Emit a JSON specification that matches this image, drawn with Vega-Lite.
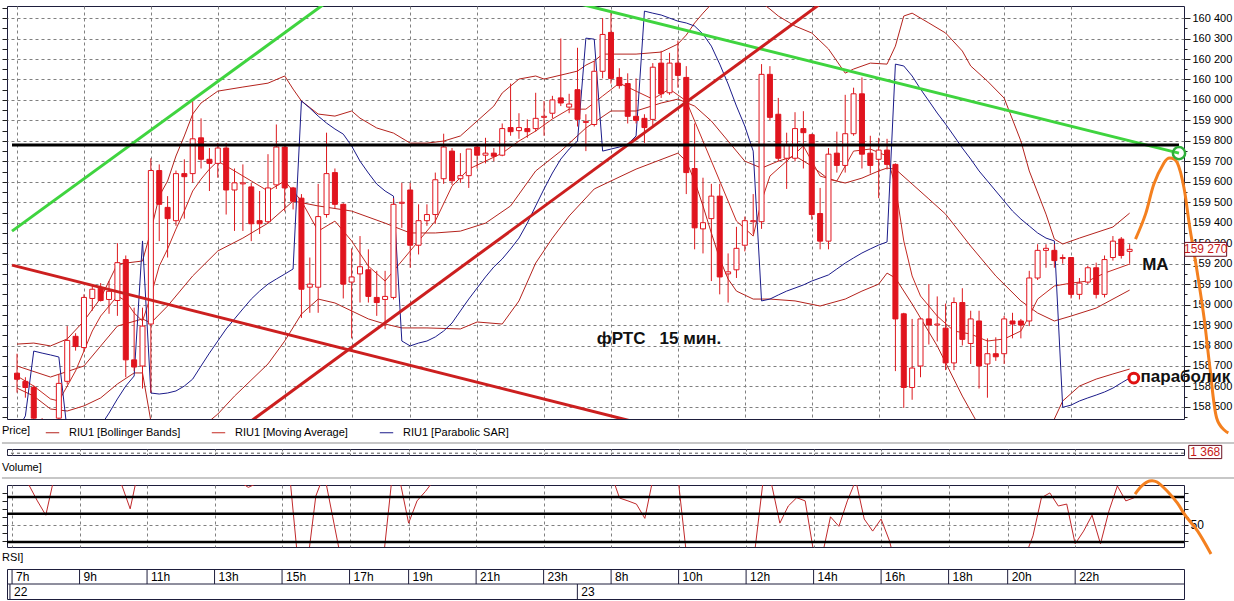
{
"$schema":"https://vega.github.io/schema/vega-lite/v6.json",
"background":"white",
"padding":{"left":0,"top":5,"right":0,"bottom":0},
"autosize":{"type":"pad"},
"bounds":"flush",
"spacing":30,
"config":{"font":"Liberation Sans","view":{"stroke":"#1e1e3c","strokeWidth":1}},
"datasets":{
"c":[{"i":0,"o":158665,"h":158760,"l":158570,"c":158635},{"i":1,"o":158625,"h":158645,"l":158545,"c":158595},{"i":2,"o":158595,"h":158605,"l":158405,"c":158445},{"i":3,"o":158430,"h":158445,"l":158350,"c":158380},{"i":4,"o":158380,"h":158435,"l":158340,"c":158420},{"i":5,"o":158445,"h":158660,"l":158420,"c":158615},{"i":6,"o":158625,"h":158895,"l":158610,"c":158825},{"i":7,"o":158845,"h":158860,"l":158775,"c":158795},{"i":8,"o":158790,"h":159050,"l":158770,"c":159035},{"i":9,"o":159030,"h":159100,"l":158970,"c":159075},{"i":10,"o":159080,"h":159105,"l":159015,"c":159020},{"i":11,"o":159025,"h":159115,"l":158955,"c":159065},{"i":12,"o":159020,"h":159300,"l":158945,"c":159205},{"i":13,"o":159220,"h":159240,"l":158645,"c":158730},{"i":14,"o":158730,"h":158985,"l":158675,"c":158695},{"i":15,"o":158700,"h":158985,"l":158590,"c":158895},{"i":16,"o":158905,"h":159715,"l":158570,"c":159655},{"i":17,"o":159655,"h":159685,"l":159310,"c":159490},{"i":18,"o":159475,"h":159530,"l":159230,"c":159420},{"i":19,"o":159410,"h":159655,"l":159385,"c":159640},{"i":20,"o":159640,"h":159710,"l":159420,"c":159625},{"i":21,"o":159640,"h":159995,"l":159595,"c":159810},{"i":22,"o":159815,"h":159910,"l":159665,"c":159710},{"i":23,"o":159710,"h":159765,"l":159555,"c":159690},{"i":24,"o":159690,"h":159790,"l":159620,"c":159765},{"i":25,"o":159765,"h":159790,"l":159440,"c":159560},{"i":26,"o":159560,"h":159665,"l":159360,"c":159595},{"i":27,"o":159590,"h":159685,"l":159360,"c":159595},{"i":28,"o":159575,"h":159595,"l":159310,"c":159395},{"i":29,"o":159410,"h":159555,"l":159345,"c":159395},{"i":30,"o":159405,"h":159735,"l":159395,"c":159570},{"i":31,"o":159585,"h":159880,"l":159565,"c":159770},{"i":32,"o":159770,"h":159785,"l":159455,"c":159570},{"i":33,"o":159570,"h":159575,"l":159465,"c":159505},{"i":34,"o":159520,"h":159540,"l":158935,"c":159075},{"i":35,"o":159085,"h":159230,"l":158960,"c":159100},{"i":36,"o":159085,"h":159590,"l":158960,"c":159430},{"i":37,"o":159440,"h":159840,"l":159425,"c":159640},{"i":38,"o":159645,"h":159665,"l":159470,"c":159490},{"i":39,"o":159490,"h":159495,"l":159030,"c":159100},{"i":40,"o":159110,"h":159275,"l":158835,"c":159135},{"i":41,"o":159150,"h":159335,"l":159010,"c":159185},{"i":42,"o":159170,"h":159270,"l":159010,"c":159040},{"i":43,"o":159035,"h":159165,"l":158945,"c":159010},{"i":44,"o":159025,"h":159165,"l":158880,"c":159040},{"i":45,"o":159035,"h":159520,"l":159025,"c":159490},{"i":46,"o":159495,"h":159595,"l":159375,"c":159500},{"i":47,"o":159560,"h":159595,"l":159180,"c":159290},{"i":48,"o":159290,"h":159490,"l":159245,"c":159410},{"i":49,"o":159410,"h":159490,"l":159385,"c":159440},{"i":50,"o":159440,"h":159645,"l":159395,"c":159610},{"i":51,"o":159615,"h":159835,"l":159590,"c":159770},{"i":52,"o":159750,"h":159765,"l":159585,"c":159605},{"i":53,"o":159615,"h":159740,"l":159595,"c":159630},{"i":54,"o":159630,"h":159760,"l":159570,"c":159760},{"i":55,"o":159770,"h":159775,"l":159665,"c":159730},{"i":56,"o":159730,"h":159815,"l":159690,"c":159740},{"i":57,"o":159740,"h":159765,"l":159700,"c":159725},{"i":58,"o":159730,"h":159885,"l":159725,"c":159860},{"i":59,"o":159865,"h":160080,"l":159825,"c":159845},{"i":60,"o":159850,"h":159935,"l":159810,"c":159865},{"i":61,"o":159860,"h":159905,"l":159815,"c":159845},{"i":62,"o":159860,"h":160035,"l":159845,"c":159910},{"i":63,"o":159915,"h":159995,"l":159825,"c":159920},{"i":64,"o":159935,"h":160020,"l":159910,"c":160000},{"i":65,"o":160010,"h":160300,"l":159970,"c":159985},{"i":66,"o":159965,"h":160030,"l":159935,"c":159980},{"i":67,"o":160050,"h":160255,"l":159870,"c":159905},{"i":68,"o":159890,"h":159930,"l":159750,"c":159895},{"i":69,"o":159880,"h":160190,"l":159870,"c":160140},{"i":70,"o":160140,"h":160400,"l":160105,"c":160320},{"i":71,"o":160330,"h":160425,"l":160080,"c":160105},{"i":72,"o":160110,"h":160155,"l":160055,"c":160070},{"i":73,"o":160080,"h":160130,"l":159885,"c":159920},{"i":74,"o":159920,"h":160105,"l":159885,"c":159900},{"i":75,"o":159910,"h":159930,"l":159790,"c":159865},{"i":76,"o":159905,"h":160180,"l":159865,"c":160160},{"i":77,"o":160180,"h":160240,"l":160010,"c":160030},{"i":78,"o":160035,"h":160230,"l":160025,"c":160180},{"i":79,"o":160180,"h":160290,"l":160060,"c":160120},{"i":80,"o":160110,"h":160165,"l":159540,"c":159645},{"i":81,"o":159665,"h":159885,"l":159270,"c":159375},{"i":82,"o":159370,"h":159620,"l":159250,"c":159400},{"i":83,"o":159420,"h":159590,"l":159115,"c":159530},{"i":84,"o":159530,"h":159590,"l":159050,"c":159135},{"i":85,"o":159150,"h":159250,"l":159010,"c":159160},{"i":86,"o":159170,"h":159380,"l":159130,"c":159275},{"i":87,"o":159290,"h":159430,"l":159260,"c":159410},{"i":88,"o":159405,"h":159540,"l":159345,"c":159410},{"i":89,"o":159405,"h":160175,"l":159370,"c":160125},{"i":90,"o":160125,"h":160165,"l":159900,"c":159915},{"i":91,"o":159930,"h":160010,"l":159700,"c":159715},{"i":92,"o":159715,"h":159840,"l":159565,"c":159780},{"i":93,"o":159715,"h":159940,"l":159700,"c":159860},{"i":94,"o":159860,"h":159945,"l":159665,"c":159840},{"i":95,"o":159830,"h":159835,"l":159415,"c":159440},{"i":96,"o":159445,"h":159570,"l":159270,"c":159310},{"i":97,"o":159310,"h":159765,"l":159270,"c":159735},{"i":98,"o":159740,"h":159845,"l":159645,"c":159680},{"i":99,"o":159680,"h":160025,"l":159645,"c":159835},{"i":100,"o":159835,"h":160060,"l":159825,"c":160030},{"i":101,"o":160030,"h":160110,"l":159665,"c":159735},{"i":102,"o":159740,"h":159825,"l":159640,"c":159680},{"i":103,"o":159710,"h":159815,"l":159520,"c":159755},{"i":104,"o":159755,"h":159810,"l":159660,"c":159685},{"i":105,"o":159685,"h":159690,"l":158675,"c":158930},{"i":106,"o":158955,"h":158960,"l":158495,"c":158595},{"i":107,"o":158595,"h":158930,"l":158535,"c":158690},{"i":108,"o":158700,"h":158935,"l":158645,"c":158930},{"i":109,"o":158930,"h":159100,"l":158805,"c":158900},{"i":110,"o":158900,"h":159040,"l":158820,"c":158905},{"i":111,"o":158885,"h":159005,"l":158680,"c":158715},{"i":112,"o":158715,"h":159035,"l":158680,"c":159010},{"i":113,"o":159010,"h":159080,"l":158800,"c":158830},{"i":114,"o":158810,"h":158970,"l":158710,"c":158930},{"i":115,"o":158920,"h":158970,"l":158590,"c":158700},{"i":116,"o":158710,"h":158835,"l":158545,"c":158760},{"i":117,"o":158760,"h":158840,"l":158725,"c":158745},{"i":118,"o":158760,"h":158945,"l":158710,"c":158930},{"i":119,"o":158920,"h":158960,"l":158835,"c":158905},{"i":120,"o":158920,"h":158930,"l":158835,"c":158900},{"i":121,"o":158920,"h":159165,"l":158895,"c":159130},{"i":122,"o":159130,"h":159295,"l":159120,"c":159265},{"i":123,"o":159265,"h":159295,"l":159180,"c":159275},{"i":124,"o":159265,"h":159295,"l":159180,"c":159215},{"i":125,"o":159225,"h":159245,"l":159200,"c":159230},{"i":126,"o":159230,"h":159230,"l":159030,"c":159050},{"i":127,"o":159050,"h":159130,"l":159025,"c":159105},{"i":128,"o":159110,"h":159190,"l":159100,"c":159180},{"i":129,"o":159180,"h":159205,"l":159030,"c":159050},{"i":130,"o":159050,"h":159240,"l":159035,"c":159220},{"i":131,"o":159230,"h":159335,"l":159215,"c":159310},{"i":132,"o":159320,"h":159330,"l":159225,"c":159240},{"i":133,"o":159260,"h":159295,"l":159200,"c":159270}],
"U":[{"i":0,"v":158807},{"i":2,"v":158812},{"i":4,"v":158798},{"i":6,"v":158832},{"i":8,"v":158920},{"i":10,"v":159032},{"i":12,"v":159198},{"i":15,"v":159213},{"i":16,"v":159359},{"i":17,"v":159530},{"i":18,"v":159604},{"i":19,"v":159726},{"i":20,"v":159824},{"i":21,"v":159931},{"i":22,"v":159985},{"i":23,"v":160014},{"i":24,"v":160043},{"i":27,"v":160063},{"i":30,"v":160082},{"i":32,"v":160117},{"i":33,"v":160053},{"i":34,"v":159995},{"i":36,"v":159931},{"i":38,"v":159921},{"i":40,"v":159946},{"i":41,"v":159911},{"i":43,"v":159863},{"i":45,"v":159838},{"i":47,"v":159789},{"i":49,"v":159789},{"i":51,"v":159799},{"i":53,"v":159824},{"i":55,"v":159897},{"i":57,"v":159970},{"i":58,"v":160034},{"i":60,"v":160102},{"i":62,"v":160117},{"i":63,"v":160102},{"i":66,"v":160131},{"i":67,"v":160141},{"i":68,"v":160170},{"i":69,"v":160190},{"i":70,"v":160224},{"i":74,"v":160224},{"i":77,"v":160234},{"i":79,"v":160273},{"i":80,"v":160317},{"i":81,"v":160376},{"i":82,"v":160424},{"i":83,"v":160468},{"i":85,"v":160522},{"i":88,"v":160507},{"i":90,"v":160444},{"i":91,"v":160410},{"i":93,"v":160361},{"i":95,"v":160327},{"i":97,"v":160249},{"i":99,"v":160131},{"i":100,"v":160151},{"i":102,"v":160180},{"i":104,"v":160175},{"i":105,"v":160263},{"i":106,"v":160410},{"i":107,"v":160424},{"i":109,"v":160376},{"i":111,"v":160327},{"i":113,"v":160239},{"i":114,"v":160166},{"i":116,"v":160092},{"i":118,"v":160009},{"i":120,"v":159799},{"i":121,"v":159653},{"i":123,"v":159442},{"i":124,"v":159320},{"i":125,"v":159296},{"i":127,"v":159325},{"i":131,"v":159379},{"i":133,"v":159447}],
"L":[{"i":0,"v":158592},{"i":2,"v":158553},{"i":4,"v":158490},{"i":6,"v":158480},{"i":8,"v":158505},{"i":10,"v":158544},{"i":12,"v":158612},{"i":14,"v":158666},{"i":15,"v":158666},{"i":16,"v":158431},{"i":18,"v":158334},{"i":21,"v":158358},{"i":23,"v":158431},{"i":24,"v":158465},{"i":26,"v":158553},{"i":27,"v":158592},{"i":30,"v":158710},{"i":32,"v":158822},{"i":34,"v":158954},{"i":36,"v":159027},{"i":38,"v":159008},{"i":40,"v":158969},{"i":42,"v":158930},{"i":44,"v":158905},{"i":46,"v":158886},{"i":49,"v":158886},{"i":53,"v":158881},{"i":55,"v":158915},{"i":58,"v":158905},{"i":60,"v":159018},{"i":62,"v":159203},{"i":64,"v":159325},{"i":66,"v":159433},{"i":69,"v":159565},{"i":71,"v":159604},{"i":74,"v":159662},{"i":79,"v":159740},{"i":80,"v":159701},{"i":81,"v":159604},{"i":82,"v":159482},{"i":83,"v":159350},{"i":84,"v":159223},{"i":85,"v":159125},{"i":86,"v":159066},{"i":88,"v":159027},{"i":90,"v":159027},{"i":93,"v":159018},{"i":96,"v":158993},{"i":99,"v":159027},{"i":101,"v":159066},{"i":103,"v":159100},{"i":104,"v":159154},{"i":105,"v":159130},{"i":107,"v":159003},{"i":110,"v":158798},{"i":113,"v":158553},{"i":115,"v":158407},{"i":118,"v":158334},{"i":121,"v":158334},{"i":124,"v":158441},{"i":125,"v":158529},{"i":127,"v":158602},{"i":129,"v":158636},{"i":131,"v":158661},{"i":133,"v":158685}],
"M":[{"i":0,"v":158700},{"i":4,"v":158646},{"i":8,"v":158700},{"i":12,"v":158895},{"i":15,"v":158930},{"i":16,"v":158910},{"i":18,"v":158993},{"i":21,"v":159140},{"i":24,"v":159262},{"i":27,"v":159325},{"i":30,"v":159398},{"i":33,"v":159506},{"i":36,"v":159482},{"i":40,"v":159457},{"i":44,"v":159398},{"i":47,"v":159350},{"i":50,"v":159350},{"i":53,"v":159359},{"i":56,"v":159398},{"i":59,"v":159482},{"i":62,"v":159653},{"i":65,"v":159750},{"i":68,"v":159863},{"i":71,"v":159946},{"i":74,"v":159946},{"i":77,"v":159985},{"i":79,"v":160004},{"i":81,"v":159970},{"i":83,"v":159897},{"i":85,"v":159799},{"i":87,"v":159701},{"i":89,"v":159667},{"i":91,"v":159701},{"i":93,"v":159726},{"i":95,"v":159677},{"i":97,"v":159613},{"i":99,"v":159594},{"i":101,"v":159618},{"i":103,"v":159653},{"i":104,"v":159667},{"i":105,"v":159662},{"i":107,"v":159589},{"i":109,"v":159516},{"i":111,"v":159442},{"i":114,"v":159286},{"i":117,"v":159140},{"i":120,"v":159018},{"i":122,"v":158959},{"i":124,"v":158920},{"i":126,"v":158944},{"i":129,"v":158983},{"i":133,"v":159071}],
"MA":[{"i":0,"v":158651},{"i":2,"v":158602},{"i":4,"v":158539},{"i":5,"v":158529},{"i":6,"v":158602},{"i":7,"v":158676},{"i":8,"v":158773},{"i":9,"v":158871},{"i":10,"v":158944},{"i":11,"v":158993},{"i":12,"v":159042},{"i":13,"v":159018},{"i":14,"v":158959},{"i":15,"v":158920},{"i":16,"v":159042},{"i":17,"v":159188},{"i":18,"v":159272},{"i":19,"v":159369},{"i":20,"v":159457},{"i":21,"v":159555},{"i":22,"v":159613},{"i":23,"v":159662},{"i":24,"v":159701},{"i":26,"v":159653},{"i":28,"v":159604},{"i":30,"v":159555},{"i":32,"v":159604},{"i":34,"v":159506},{"i":36,"v":159359},{"i":38,"v":159408},{"i":40,"v":159311},{"i":42,"v":159188},{"i":44,"v":159115},{"i":46,"v":159213},{"i":48,"v":159311},{"i":50,"v":159408},{"i":52,"v":159579},{"i":54,"v":159662},{"i":56,"v":159701},{"i":58,"v":159740},{"i":60,"v":159799},{"i":62,"v":159848},{"i":64,"v":159907},{"i":66,"v":159955},{"i":68,"v":159955},{"i":70,"v":160019},{"i":72,"v":160082},{"i":74,"v":160043},{"i":76,"v":160004},{"i":78,"v":160053},{"i":80,"v":159995},{"i":82,"v":159799},{"i":84,"v":159604},{"i":86,"v":159408},{"i":88,"v":159335},{"i":89,"v":159506},{"i":90,"v":159628},{"i":92,"v":159701},{"i":94,"v":159775},{"i":96,"v":159628},{"i":98,"v":159604},{"i":100,"v":159750},{"i":102,"v":159760},{"i":104,"v":159726},{"i":105,"v":159579},{"i":106,"v":159311},{"i":107,"v":159140},{"i":108,"v":159042},{"i":110,"v":158944},{"i":112,"v":158871},{"i":114,"v":158856},{"i":116,"v":158822},{"i":118,"v":158832},{"i":120,"v":158871},{"i":121,"v":158944},{"i":122,"v":159027},{"i":124,"v":159091},{"i":126,"v":159105},{"i":128,"v":159115},{"i":130,"v":159154},{"i":133,"v":159198}],
"S":[{"i":0,"v":158382},{"i":1,"v":158456},{"i":2,"v":158773},{"i":3,"v":158763},{"i":4,"v":158754},{"i":5,"v":158744},{"i":6,"v":158382},{"i":7,"v":158334},{"i":8,"v":158358},{"i":9,"v":158382},{"i":10,"v":158407},{"i":11,"v":158470},{"i":12,"v":158539},{"i":13,"v":158602},{"i":14,"v":158651},{"i":15,"v":159311},{"i":16,"v":158568},{"i":17,"v":158563},{"i":18,"v":158568},{"i":19,"v":158578},{"i":20,"v":158602},{"i":21,"v":158636},{"i":22,"v":158700},{"i":23,"v":158763},{"i":24,"v":158822},{"i":25,"v":158881},{"i":26,"v":158930},{"i":27,"v":158979},{"i":28,"v":159027},{"i":29,"v":159066},{"i":30,"v":159100},{"i":31,"v":159125},{"i":32,"v":159149},{"i":33,"v":159174},{"i":34,"v":159995},{"i":35,"v":159960},{"i":36,"v":159921},{"i":37,"v":159887},{"i":38,"v":159858},{"i":39,"v":159833},{"i":40,"v":159775},{"i":41,"v":159701},{"i":42,"v":159643},{"i":43,"v":159589},{"i":44,"v":159555},{"i":45,"v":159530},{"i":46,"v":158822},{"i":47,"v":158798},{"i":48,"v":158812},{"i":49,"v":158822},{"i":50,"v":158842},{"i":51,"v":158871},{"i":52,"v":158910},{"i":53,"v":158969},{"i":54,"v":159027},{"i":55,"v":159081},{"i":56,"v":159135},{"i":57,"v":159184},{"i":58,"v":159223},{"i":59,"v":159272},{"i":60,"v":159325},{"i":61,"v":159398},{"i":62,"v":159482},{"i":63,"v":159565},{"i":64,"v":159643},{"i":65,"v":159711},{"i":66,"v":159760},{"i":67,"v":159799},{"i":68,"v":160302},{"i":69,"v":160297},{"i":70,"v":159750},{"i":71,"v":159760},{"i":72,"v":159770},{"i":73,"v":159784},{"i":74,"v":159824},{"i":75,"v":160434},{"i":76,"v":160424},{"i":77,"v":160415},{"i":78,"v":160400},{"i":79,"v":160385},{"i":80,"v":160376},{"i":81,"v":160361},{"i":82,"v":160322},{"i":83,"v":160263},{"i":84,"v":160175},{"i":85,"v":160078},{"i":86,"v":159970},{"i":87,"v":159872},{"i":88,"v":159750},{"i":89,"v":159018},{"i":90,"v":159027},{"i":91,"v":159047},{"i":92,"v":159066},{"i":93,"v":159081},{"i":94,"v":159096},{"i":95,"v":159115},{"i":96,"v":159130},{"i":97,"v":159145},{"i":98,"v":159174},{"i":99,"v":159203},{"i":100,"v":159228},{"i":101,"v":159252},{"i":102,"v":159272},{"i":103,"v":159291},{"i":104,"v":159306},{"i":105,"v":160175},{"i":106,"v":160166},{"i":107,"v":160117},{"i":108,"v":160053},{"i":109,"v":159995},{"i":110,"v":159936},{"i":111,"v":159882},{"i":112,"v":159824},{"i":113,"v":159765},{"i":114,"v":159711},{"i":115,"v":159653},{"i":116,"v":159604},{"i":117,"v":159555},{"i":118,"v":159506},{"i":119,"v":159457},{"i":120,"v":159418},{"i":121,"v":159384},{"i":122,"v":159350},{"i":123,"v":159325},{"i":124,"v":159311},{"i":125,"v":158498},{"i":126,"v":158509},{"i":127,"v":158529},{"i":128,"v":158544},{"i":129,"v":158558},{"i":130,"v":158573},{"i":131,"v":158592},{"i":132,"v":158617},{"i":133,"v":158641}],
"tl":[{"g":"g1","i":-0.6,"v":159359},{"g":"g1","i":37.9,"v":160504},{"g":"g2","i":66.4,"v":160478},{"g":"g2","i":138.9,"v":159740},{"g":"r1","i":-0.6,"v":159193},{"g":"r1","i":74.7,"v":158418},{"g":"r2","i":27.85,"v":158427},{"g":"r2","i":96.6,"v":160487},{"g":"k","i":-0.6,"v":159780},{"g":"k","i":138.9,"v":159780}],
"oa":[{"i":133.7,"v":159320},{"i":134.9,"v":159442},{"i":135.9,"v":159589},{"i":137.1,"v":159692},{"i":137.8,"v":159716},{"i":138.7,"v":159692},{"i":139.5,"v":159570},{"i":140.2,"v":159374},{"i":141.0,"v":159179},{"i":141.9,"v":158934},{"i":142.6,"v":158690},{"i":143.4,"v":158446},{"i":144.8,"v":158373}],
"tx":[{"i":69.3,"v":158832,"t":"фРТС\u00a0\u00a0\u00a015 мин."},{"i":134.5,"v":159193,"t":"МА"},{"i":134.3,"v":158646,"t":"параболик"}],
"r":[{"i":0,"v":82},{"i":1,"v":80},{"i":2,"v":75},{"i":3,"v":65},{"i":4,"v":56},{"i":5,"v":80},{"i":6,"v":84},{"i":7,"v":86},{"i":8,"v":88},{"i":9,"v":86},{"i":10,"v":84},{"i":11,"v":82},{"i":12,"v":78},{"i":13,"v":75},{"i":14,"v":60},{"i":15,"v":85},{"i":16,"v":90},{"i":17,"v":88},{"i":18,"v":85},{"i":19,"v":86},{"i":20,"v":84},{"i":21,"v":88},{"i":22,"v":86},{"i":23,"v":84},{"i":24,"v":85},{"i":25,"v":80},{"i":26,"v":79},{"i":27,"v":77},{"i":28,"v":73.5},{"i":29,"v":76},{"i":30,"v":80},{"i":31,"v":84},{"i":32,"v":78},{"i":33,"v":76},{"i":34,"v":20},{"i":35,"v":25},{"i":36,"v":68},{"i":37,"v":82},{"i":38,"v":55},{"i":39,"v":28},{"i":40,"v":26},{"i":41,"v":28},{"i":42,"v":25},{"i":43,"v":24},{"i":44,"v":28},{"i":45,"v":78},{"i":46,"v":77},{"i":47,"v":51},{"i":48,"v":65},{"i":49,"v":71},{"i":50,"v":78},{"i":51,"v":82},{"i":52,"v":79},{"i":53,"v":80},{"i":54,"v":82},{"i":55,"v":82},{"i":56,"v":81},{"i":57,"v":80},{"i":58,"v":84},{"i":59,"v":84},{"i":60,"v":84},{"i":61,"v":83},{"i":62,"v":85},{"i":63,"v":86},{"i":64,"v":88},{"i":65,"v":86},{"i":66,"v":85},{"i":67,"v":80},{"i":68,"v":79},{"i":69,"v":82},{"i":70,"v":86},{"i":71,"v":82},{"i":72,"v":66.8},{"i":73,"v":65},{"i":74,"v":63},{"i":75,"v":54},{"i":76,"v":80},{"i":77,"v":82},{"i":78,"v":78},{"i":79,"v":76},{"i":80,"v":28},{"i":81,"v":22},{"i":82,"v":24},{"i":83,"v":28},{"i":84,"v":20},{"i":85,"v":22},{"i":86,"v":27},{"i":87,"v":30},{"i":88,"v":32},{"i":89,"v":77},{"i":90,"v":76},{"i":91,"v":51},{"i":92,"v":61.8},{"i":93,"v":67},{"i":94,"v":65},{"i":95,"v":33},{"i":96,"v":30},{"i":97,"v":55},{"i":98,"v":49},{"i":99,"v":65},{"i":100,"v":78},{"i":101,"v":53.6},{"i":102,"v":46},{"i":103,"v":53.6},{"i":104,"v":39.8},{"i":105,"v":18},{"i":106,"v":15},{"i":107,"v":20},{"i":108,"v":25},{"i":109,"v":27},{"i":110,"v":28},{"i":111,"v":24},{"i":112,"v":30},{"i":113,"v":26},{"i":114,"v":29},{"i":115,"v":25},{"i":116,"v":27},{"i":117,"v":26},{"i":118,"v":30},{"i":119,"v":28},{"i":120,"v":29},{"i":121,"v":43},{"i":122,"v":67},{"i":123,"v":70},{"i":124,"v":61.8},{"i":125,"v":63},{"i":126,"v":38},{"i":127,"v":46},{"i":128,"v":56},{"i":129,"v":38},{"i":130,"v":58.6},{"i":131,"v":74.4},{"i":132,"v":65},{"i":133,"v":67}],
"ro":[{"i":133.1,"v":69.3},{"i":133.9,"v":74.4},{"i":134.8,"v":77.5},{"i":135.7,"v":76.9},{"i":136.9,"v":71.2},{"i":138.1,"v":63.7},{"i":139.1,"v":55.5},{"i":140.5,"v":46.1},{"i":142.1,"v":31.6}],
"hrs":[{"i":0,"t":"7h"},{"i":8,"t":"9h"},{"i":16,"t":"11h"},{"i":24,"t":"13h"},{"i":32,"t":"15h"},{"i":40,"t":"17h"},{"i":47,"t":"19h"},{"i":55,"t":"21h"},{"i":63,"t":"23h"},{"i":71,"t":"8h"},{"i":79,"t":"10h"},{"i":87,"t":"12h"},{"i":95,"t":"14h"},{"i":103,"t":"16h"},{"i":111,"t":"18h"},{"i":118,"t":"20h"},{"i":126,"t":"22h"}],
"dt":[{"i":-0.25,"t":"22"},{"i":67,"t":"23"}]
},
"vconcat":[
{
"width":1177,"height":413,
"encoding":{"x":{"field":"i","type":"quantitative","scale":{"domain":[-0.6,138.9],"nice":false,"zero":false},"axis":{"values":[0,8,16,24,32,40,47,55,63,71,79,87,95,103,111,118,126],"grid":true,"gridDash":[3,3],"gridColor":"#808080","labels":false,"ticks":false,"domain":false,"title":null}}},
"resolve":{"axis":{"y":"independent"}},
"layer":[
{"data":{"name":"U"},"mark":{"type":"line","clip":true,"strokeWidth":1},"encoding":{"y":{"field":"v","type":"quantitative","scale":{"domain":[158441,160459],"nice":false,"zero":false},"axis":null},"color":{"datum":"RIU1 [Bollinger Bands]","type":"nominal","scale":{"domain":["RIU1 [Bollinger Bands]","RIU1 [Moving Average]","RIU1 [Parabolic SAR]"],"range":["#b4231d","#c42a22","#1b1b8a"]},"legend":{"orient":"none","legendX":-5,"legendY":419,"direction":"horizontal","title":"Price]","titleOrient":"left","titleFontWeight":"normal","titleFontSize":11,"titleColor":"#000","titlePadding":14,"labelFontSize":11,"labelColor":"#000","symbolType":"stroke","symbolStrokeWidth":1,"symbolSize":180,"labelOffset":9,"columnPadding":28,"padding":0}}}},
{"data":{"name":"L"},"mark":{"type":"line","clip":true,"strokeWidth":1},"encoding":{"y":{"field":"v","type":"quantitative","axis":null},"color":{"datum":"RIU1 [Bollinger Bands]","type":"nominal"}}},
{"data":{"name":"M"},"mark":{"type":"line","clip":true,"strokeWidth":1},"encoding":{"y":{"field":"v","type":"quantitative","axis":null},"color":{"datum":"RIU1 [Bollinger Bands]","type":"nominal"}}},
{"data":{"name":"MA"},"mark":{"type":"line","clip":true,"strokeWidth":1},"encoding":{"y":{"field":"v","type":"quantitative","axis":null},"color":{"datum":"RIU1 [Moving Average]","type":"nominal"}}},
{"data":{"name":"S"},"mark":{"type":"line","clip":true,"strokeWidth":1},"encoding":{"y":{"field":"v","type":"quantitative","axis":null},"color":{"datum":"RIU1 [Parabolic SAR]","type":"nominal"}}},
{"data":{"name":"c"},"mark":{"type":"rule","clip":true,"color":"#dc1a1e","strokeWidth":1},"encoding":{"y":{"field":"h","type":"quantitative","axis":{"orient":"left","values":[158450,158500,158550,158600,158650,158700,158750,158800,158850,158900,158950,159000,159050,159100,159150,159200,159250,159300,159350,159400,159450,159500,159550,159600,159650,159700,159750,159800,159850,159900,159950,160000,160050,160100,160150,160200,160250,160300,160350,160400,160450],"labels":false,"tickSize":5,"tickColor":"#222","domain":false,"grid":false,"title":null}},"y2":{"field":"l"}}},
{"data":{"name":"c"},"mark":{"type":"bar","clip":true,"size":5,"stroke":"#e0141e","strokeWidth":1},"encoding":{"y":{"field":"o","type":"quantitative","axis":{"orient":"right","values":[158450,158500,158550,158600,158650,158700,158750,158800,158850,158900,158950,159000,159050,159100,159150,159200,159250,159300,159350,159400,159450,159500,159550,159600,159650,159700,159750,159800,159850,159900,159950,160000,160050,160100,160150,160200,160250,160300,160350,160400],"labelExpr":"datum.value % 100 === 0 ? replace(format(datum.value, ',d'), ',', ' ') : ''","labelOverlap":false,"labelFontSize":11,"labelColor":"#000","labelPadding":2,"tickColor":"#222","tickSize":{"condition":{"test":"datum.value % 100 === 0","value":6},"value":3},"grid":true,"gridDash":[3,3],"gridColor":"#808080","gridOpacity":{"condition":{"test":"datum.value % 100 === 0","value":1},"value":0},"domain":false,"title":null}},"y2":{"field":"c"},"fill":{"condition":{"test":"datum.c >= datum.o","value":"white"},"value":"#e0141e"}}},
{"data":{"name":"tl"},"mark":{"type":"line","clip":true},"encoding":{"y":{"field":"v","type":"quantitative","axis":null},"detail":{"field":"g"},"stroke":{"field":"g","type":"nominal","scale":{"domain":["g1","g2","r1","r2","k"],"range":["#3fd43f","#3fd43f","#cc1f1f","#cc1f1f","#000000"]},"legend":null},"strokeWidth":{"field":"g","type":"nominal","scale":{"domain":["g1","g2","r1","r2","k"],"range":[3,3,3,3,2]},"legend":null}}},
{"data":{"name":"oa"},"mark":{"type":"line","clip":false,"interpolate":"cardinal","color":"#f4801f","strokeWidth":3},"encoding":{"y":{"field":"v","type":"quantitative","axis":null}}},
{"data":{"name":"tx"},"mark":{"type":"text","align":"left","baseline":"middle","fontWeight":"bold","fontSize":17,"color":"#111"},"encoding":{"y":{"field":"v","type":"quantitative","axis":null},"text":{"field":"t"}}},
{"data":{"values":[{"i":133.5,"v":158641}]},"mark":{"type":"point","shape":"circle","filled":false,"size":95,"strokeWidth":3,"color":"#e01010","opacity":1},"encoding":{"y":{"field":"v","type":"quantitative","axis":null}}},
{"data":{"values":[{"i":138.9,"v":159740}]},"mark":{"type":"point","shape":"circle","filled":false,"size":150,"strokeWidth":2.5,"color":"#2fae3a","opacity":1},"encoding":{"y":{"field":"v","type":"quantitative","axis":null}}},
{"data":{"values":[{"i":133,"v":159270,"t":"159 270"}]},"mark":{"type":"point","shape":"M-1,-0.33H1V0.33H-1Z","size":1764,"filled":true,"fill":"white","stroke":"#6b1020","strokeWidth":1,"opacity":1,"xOffset":76},"encoding":{"y":{"field":"v","type":"quantitative","axis":null}}},
{"data":{"values":[{"i":133,"v":159270,"t":"159 270"}]},"mark":{"type":"text","align":"center","baseline":"middle","fontSize":12,"color":"#c81818","xOffset":76},"encoding":{"y":{"field":"v","type":"quantitative","axis":null},"text":{"field":"t"}}}
]
},
{
"width":1177,"height":6,
"layer":[
{"data":{"values":[{"v":0.3}]},"mark":{"type":"rule","strokeDash":[3,3],"color":"#555"},"encoding":{"y":{"field":"v","type":"quantitative","scale":{"domain":[0,1]},"axis":null}}},
{"data":{"values":[{"v":2.0}]},"mark":{"type":"rule","color":"#b4b4b4","strokeWidth":1.5,"clip":false},"encoding":{"y":{"field":"v","type":"quantitative","axis":null},"x":{"datum":-1.2,"type":"quantitative"},"x2":{"datum":145.5}}},
{"data":{"values":[{"i":133,"v":0.5,"t":"1 368"}]},"mark":{"type":"point","shape":"M-1,-0.4H1V0.4H-1Z","size":1089,"filled":true,"fill":"white","stroke":"#6b1020","strokeWidth":1,"opacity":1,"xOffset":71},"encoding":{"x":{"field":"i","type":"quantitative","scale":{"domain":[-0.6,138.9],"nice":false,"zero":false},"axis":{"values":[0,8,16,24,32,40,47,55,63,71,79,87,95,103,111,118,126],"grid":true,"gridDash":[2,2],"gridColor":"#808080","labels":false,"ticks":false,"domain":false,"title":null}},"y":{"field":"v","type":"quantitative","axis":null}}},
{"data":{"values":[{"i":133,"v":0.5,"t":"1 368"}]},"mark":{"type":"text","align":"center","baseline":"middle","fontSize":12,"color":"#c81818","xOffset":71},"encoding":{"x":{"field":"i","type":"quantitative"},"y":{"field":"v","type":"quantitative","axis":null},"text":{"field":"t"}}},
{"data":{"values":[{"t":"Volume]"}]},"mark":{"type":"text","align":"left","baseline":"middle","fontSize":11,"color":"#000","dx":-5,"clip":false},"encoding":{"x":{"datum":-0.6,"type":"quantitative"},"y":{"datum":-2.17,"type":"quantitative"},"text":{"field":"t"}}}
]
},
{
"bounds":"flush",
"spacing":22,
"vconcat":[
{
"width":1177,"height":62,
"resolve":{"axis":{"y":"independent"}},
"layer":[
{"data":{"name":"r"},"mark":{"type":"line","clip":true,"color":"#c0282a","strokeWidth":1},"encoding":{"x":{"field":"i","type":"quantitative","scale":{"domain":[-0.6,138.9],"nice":false,"zero":false},"axis":{"values":[0,8,16,24,32,40,47,55,63,71,79,87,95,103,111,118,126],"grid":true,"gridDash":[3,3],"gridColor":"#808080","labels":false,"ticks":false,"domain":false,"title":null}},"y":{"field":"v","type":"quantitative","scale":{"domain":[36,75],"nice":false,"zero":false},"axis":{"orient":"right","values":[40,45,50,55,60,65,70],"labelExpr":"datum.value === 50 ? '50' : ''","labelOverlap":false,"labelFontSize":12,"labelColor":"#000","labelPadding":2,"tickSize":4,"tickColor":"#222","grid":true,"gridDash":[3,3],"gridColor":"#808080","gridOpacity":{"condition":{"test":"datum.value === 50","value":1},"value":0},"domain":false,"title":null}}}},
{"data":{"values":[{"v":67.5},{"v":56.9},{"v":39.1}]},"mark":{"type":"rule","color":"#000","strokeWidth":2.5},"encoding":{"y":{"field":"v","type":"quantitative","axis":{"orient":"left","values":[40,45,50,55,60,65,70],"labels":false,"tickSize":5,"tickColor":"#222","domain":false,"grid":false,"title":null}}}},
{"data":{"values":[{"v":79.4}]},"mark":{"type":"rule","color":"#b4b4b4","strokeWidth":1.5,"clip":false},"encoding":{"y":{"field":"v","type":"quantitative","axis":null},"x":{"datum":-1.2,"type":"quantitative"},"x2":{"datum":145.5}}},
{"data":{"name":"ro"},"mark":{"type":"line","clip":false,"interpolate":"cardinal","color":"#f4801f","strokeWidth":3},"encoding":{"x":{"field":"i","type":"quantitative"},"y":{"field":"v","type":"quantitative","axis":null}}}
]
},
{
"width":1177,"height":30,
"layer":[
{"data":{"name":"hrs"},"mark":{"type":"rule","color":"#1e1e3c"},"encoding":{"x":{"field":"i","type":"quantitative","scale":{"domain":[-0.6,138.9],"nice":false,"zero":false},"axis":null},"y":{"datum":1,"type":"quantitative","scale":{"domain":[0,2],"nice":false,"zero":false},"axis":null},"y2":{"datum":2}}},
{"data":{"name":"hrs"},"mark":{"type":"text","align":"left","baseline":"middle","dx":4,"fontSize":12,"color":"#000"},"encoding":{"x":{"field":"i","type":"quantitative"},"y":{"datum":1.5,"type":"quantitative"},"text":{"field":"t"}}},
{"data":{"values":[{"v":1}]},"mark":{"type":"rule","color":"#1e1e3c"},"encoding":{"y":{"field":"v","type":"quantitative"}}},
{"data":{"name":"dt"},"mark":{"type":"rule","color":"#1e1e3c"},"encoding":{"x":{"field":"i","type":"quantitative"},"y":{"datum":0,"type":"quantitative"},"y2":{"datum":1}}},
{"data":{"name":"dt"},"mark":{"type":"text","align":"left","baseline":"middle","dx":4,"fontSize":12,"color":"#000"},"encoding":{"x":{"field":"i","type":"quantitative"},"y":{"datum":0.5,"type":"quantitative"},"text":{"field":"t"}}},
{"data":{"values":[{"t":"RSI]"}]},"mark":{"type":"text","align":"left","baseline":"middle","fontSize":11,"color":"#000","dx":-5,"clip":false},"encoding":{"x":{"datum":-0.6,"type":"quantitative"},"y":{"datum":2.733,"type":"quantitative"},"text":{"field":"t"}}}
]
}
]
}
]
}
